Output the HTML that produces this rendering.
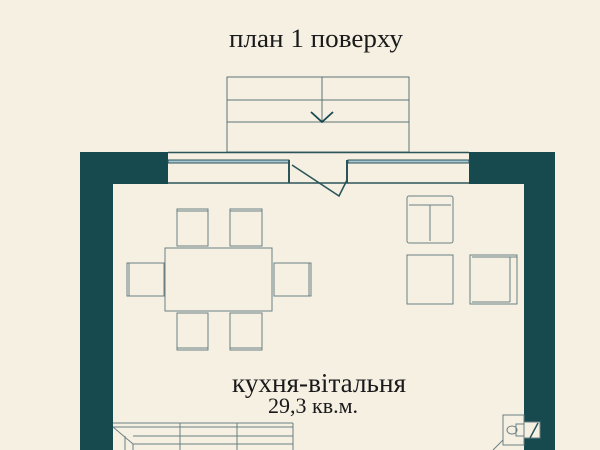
<!DOCTYPE html>
<html><head><meta charset="utf-8"><style>
html,body{margin:0;padding:0;background:#f6f0e3;}
svg{display:block}
text{font-family:"Liberation Serif",serif;fill:#1a1a1a}
</style></head><body>
<svg width="600" height="450" viewBox="0 0 600 450" xmlns="http://www.w3.org/2000/svg">
<rect width="600" height="450" fill="#f6f0e3"/>
<text x="316" y="47" font-size="26.5" text-anchor="middle" textLength="174" lengthAdjust="spacingAndGlyphs">план 1 поверху</text>
<!-- walls -->
<g fill="#174a4f">
<rect x="80" y="152" width="88" height="32"/>
<rect x="469" y="152" width="86" height="32"/>
<rect x="80" y="152" width="33" height="298"/>
<rect x="524" y="152" width="31" height="298"/>
</g>
<!-- stairs -->
<g stroke="#5d7377" stroke-width="1" fill="none">
<rect x="227" y="77" width="182" height="75"/>
<line x1="227" y1="100" x2="409" y2="100"/>
<line x1="227" y1="122" x2="409" y2="122"/>
<line x1="322" y1="77" x2="322" y2="122"/>
</g>
<polyline points="311,112 322,122 333,112" stroke="#174a4f" stroke-width="1.8" fill="none"/>
<!-- window / door frame -->
<g stroke="#2b5559" fill="none">
<line x1="168" y1="152.5" x2="469" y2="152.5" stroke-width="1.5"/>
<line x1="168" y1="183" x2="469" y2="183" stroke-width="1.5"/>
<rect x="168" y="160" width="121" height="3" fill="#a9c6d2" stroke-width="1"/>
<rect x="348" y="160" width="121" height="3" fill="#a9c6d2" stroke-width="1"/>
<line x1="289" y1="160" x2="289" y2="183" stroke-width="2"/>
<line x1="347" y1="160" x2="347" y2="183" stroke-width="2"/>
<polyline points="292,165 339,196 347,180 347,163" stroke-width="1.6"/>
</g>
<!-- dining -->
<g stroke="#6b7f83" stroke-width="1" fill="none">
<rect x="165" y="248" width="107" height="63"/>
<rect x="177" y="209" width="31" height="37"/>
<rect x="230" y="209" width="32" height="37"/>
<rect x="177" y="313" width="31" height="37"/>
<rect x="230" y="313" width="32" height="37"/>
<rect x="127" y="263" width="37" height="33"/>
<rect x="274" y="263" width="37" height="33"/>
<line x1="177" y1="211" x2="208" y2="211"/>
<line x1="230" y1="211" x2="262" y2="211"/>
<line x1="177" y1="348" x2="208" y2="348"/>
<line x1="230" y1="348" x2="262" y2="348"/>
<line x1="129" y1="263" x2="129" y2="296"/>
<line x1="309" y1="263" x2="309" y2="296"/>
<!-- lounge -->
<rect x="407" y="196" width="46" height="47" rx="2"/>
<line x1="409" y1="205" x2="451" y2="205"/>
<line x1="430" y1="205" x2="430" y2="241"/>
<rect x="407" y="255" width="46" height="49"/>
<rect x="470" y="255" width="47" height="49"/>
<line x1="510" y1="257" x2="510" y2="302"/>
<line x1="472" y1="257" x2="517" y2="257"/>
<line x1="472" y1="302" x2="510" y2="302"/>
<!-- counter -->
<line x1="113" y1="423" x2="293" y2="423"/>
<line x1="113" y1="427" x2="293" y2="427"/>
<line x1="133" y1="436" x2="293" y2="436"/>
<line x1="133" y1="444" x2="293" y2="444"/>
<line x1="293" y1="423" x2="293" y2="450"/>
<line x1="180" y1="423" x2="180" y2="450"/>
<line x1="237" y1="423" x2="237" y2="450"/>
<line x1="113" y1="427" x2="133" y2="444"/>
<line x1="125" y1="436" x2="125" y2="450"/>
<line x1="133" y1="444" x2="133" y2="450"/>
<!-- sink -->
<rect x="503" y="415" width="21" height="30"/>
<ellipse cx="512" cy="430" rx="5" ry="4"/>
<rect x="516" y="424" width="8" height="12"/>
<line x1="503" y1="440" x2="493" y2="450"/>
</g>
<rect x="524" y="422" width="16" height="16" fill="#f6f0e3" stroke="#6b7f83"/>
<line x1="530" y1="438" x2="538" y2="423" stroke="#2b5559" stroke-width="1.5"/>
<text x="319" y="392" font-size="27" text-anchor="middle" textLength="174" lengthAdjust="spacingAndGlyphs">кухня-вітальня</text>
<text x="313" y="413" font-size="22" text-anchor="middle" textLength="90" lengthAdjust="spacingAndGlyphs">29,3 кв.м.</text>
</svg>
</body></html>
